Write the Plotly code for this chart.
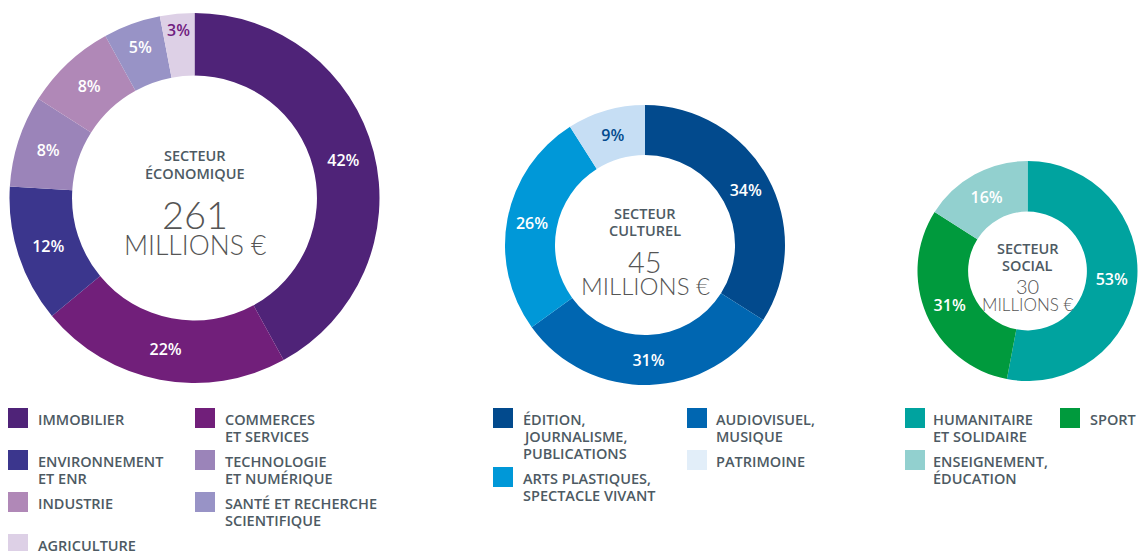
import plotly.graph_objects as go

# Browser window size; the page places the plot 8px in from the top-left corner
WIN_W, WIN_H = 1147, 551
OFF = 8
W, H = WIN_W - OFF, WIN_H - OFF

# ---------------- data ----------------
eco_labels = ["IMMOBILIER", "COMMERCES<br>ET SERVICES", "ENVIRONNEMENT<br>ET ENR",
              "TECHNOLOGIE<br>ET NUMÉRIQUE", "INDUSTRIE", "SANTÉ ET RECHERCHE<br>SCIENTIFIQUE",
              "AGRICULTURE"]
eco_values = [42, 22, 12, 8, 8, 5, 3]
eco_colors = ["#4f2378", "#711f7a", "#3b368d", "#9b84b9", "#b088b7", "#9893c6", "#ddd0e6"]
eco_textcolors = ["white"] * 6 + ["#702080"]

cul_labels = ["ÉDITION,<br>JOURNALISME,<br>PUBLICATIONS", "AUDIOVISUEL,<br>MUSIQUE",
              "ARTS PLASTIQUES,<br>SPECTACLE VIVANT", "PATRIMOINE"]
cul_values = [34, 31, 26, 9]
cul_colors = ["#024a8d", "#0066b1", "#0098d8", "#c6def4"]
cul_legend_colors = ["#024a8d", "#0066b1", "#0098d8", "#e2eef9"]
cul_textcolors = ["white", "white", "white", "#024a8d"]

soc_labels = ["HUMANITAIRE<br>ET SOLIDAIRE", "SPORT", "ENSEIGNEMENT,<br>ÉDUCATION"]
soc_values = [53, 31, 16]
soc_colors = ["#00a39f", "#009a3d", "#92d0cf"]
soc_textcolors = ["white", "white", "white"]

titles = ["SECTEUR<br>ÉCONOMIQUE", "SECTEUR<br>CULTUREL", "SECTEUR<br>SOCIAL"]
totals = ["261", "45", "30"]
unit = "MILLIONS €"

# ---------------- layout constants (window pixels) ----------------
GRAY = "#4d5a63"
NUMGRAY = "#555555"
LABEL_FONT = "Open Sans"
NUM_FONT = "Lato"
LABEL_SIZE = 14.5

# (cx, cy, R, hole)
pies = [(194.5, 198, 185, 0.662), (645, 245, 140, 0.643), (1027.5, 271, 110, 0.54)]
# centre text: (title_first_line_y, total_y, total_size, unit_y, unit_size)
centre = [(156, 214, 38, 245, 26.5), (214, 261, 29, 285, 24), (248, 286, 20, 304, 17)]
# legend columns: (square_x, text_x)
legend_cols = [[(8, 37), (195, 224)], [(493, 522), (687, 715)], [(905, 932), (1060, 1089)]]
LEG_TOP = 408
SQ = 20
LINE = 17


def px_x(x):
    return (x - OFF) / W


def px_y(y):
    return 1 - (y - OFF) / H


fig = go.Figure()

sectors = [
    (eco_labels, eco_values, eco_colors, eco_colors, eco_textcolors),
    (cul_labels, cul_values, cul_colors, cul_legend_colors, cul_textcolors),
    (soc_labels, soc_values, soc_colors, soc_colors, soc_textcolors),
]

annotations = []
shapes = []


def text_line(x, y, txt, anchor, font):
    annotations.append(dict(x=px_x(x), y=px_y(y), xref="paper", yref="paper",
                            text=txt, showarrow=False, xanchor=anchor, yanchor="middle",
                            align=anchor if anchor != "center" else "center",
                            borderpad=0, font=font))


label_font = dict(family=LABEL_FONT, size=LABEL_SIZE, color=GRAY, weight=600)

for k, (labels, values, colors, leg_colors, tcolors) in enumerate(sectors):
    cx, cy, R, hole = pies[k]
    fig.add_trace(go.Pie(
        labels=[l.replace("<br>", " ") for l in labels],
        values=values,
        sort=False,
        direction="clockwise",
        rotation=0,
        hole=hole,
        marker=dict(colors=colors, line=dict(width=0)),
        texttemplate="%{value}%",
        textposition="inside",
        insidetextorientation="horizontal",
        textfont=dict(family=LABEL_FONT, size=16, color=tcolors, weight=600),
        hoverinfo="label+percent",
        showlegend=False,
        domain=dict(x=[px_x(cx - R), px_x(cx + R)], y=[px_y(cy + R), px_y(cy - R)]),
    ))

    ty, ny, ns, uy, us = centre[k]
    for j, line in enumerate(titles[k].split("<br>")):
        text_line(cx, ty + j * LINE, line, "center", label_font)
    text_line(cx, ny, totals[k], "center",
              dict(family=NUM_FONT, size=ns, color=NUMGRAY, weight=300))
    text_line(cx, uy, unit, "center",
              dict(family=NUM_FONT, size=us, color=NUMGRAY, weight=300))

    # legend (two independent columns)
    col_y = [LEG_TOP, LEG_TOP]
    for i, (lab, col) in enumerate(zip(labels, leg_colors)):
        c = i % 2
        sx, tx = legend_cols[k][c]
        y0 = col_y[c]
        shapes.append(dict(type="rect", xref="paper", yref="paper",
                           x0=px_x(sx), x1=px_x(sx + SQ), y0=px_y(y0 + SQ), y1=px_y(y0),
                           fillcolor=col, line=dict(width=0)))
        lines = lab.split("<br>")
        for j, line in enumerate(lines):
            text_line(tx, y0 + 11 + j * LINE, line, "left", label_font)
        col_y[c] = y0 + LINE * max(len(lines), 2) + 8

fig.update_layout(
    width=W, height=H,
    margin=dict(l=0, r=0, t=0, b=0),
    paper_bgcolor="white", plot_bgcolor="white",
    annotations=annotations, shapes=shapes,
)

fig.write_html("out.html")
